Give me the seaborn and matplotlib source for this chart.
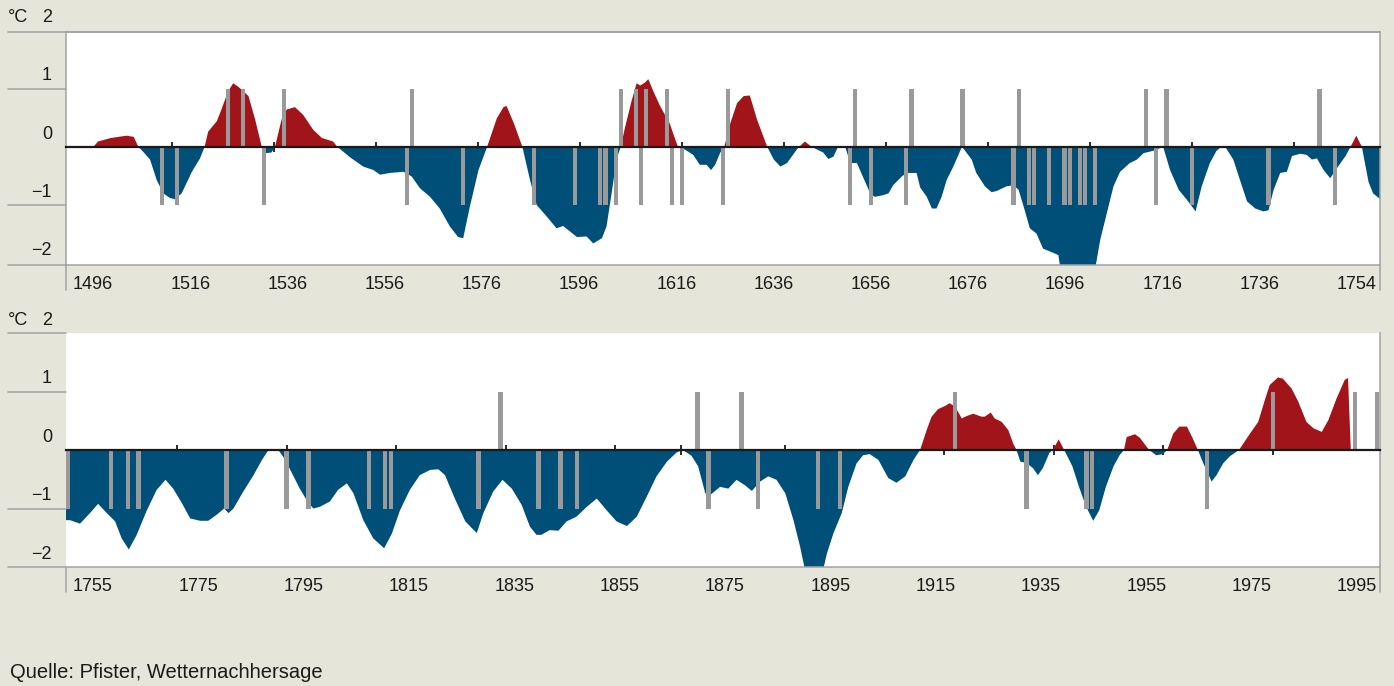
import numpy as np
import pandas as pd
import matplotlib.pyplot as plt
import seaborn as sns

# -------------------------------
# Data (°C anomaly, smoothed)
# -------------------------------
years_1 = [1495.2, 1500.6, 1501.5, 1504, 1507.1, 1508.5, 1509.4, 1510.5, 1511.7, 1513, 1514.3,
           1515.6, 1516.6, 1517.9, 1519.9, 1521.5, 1522.4, 1523.1, 1524.8, 1525.7, 1527, 1528,
           1529, 1531, 1532.3, 1533.6, 1534.2, 1535.5, 1536.2, 1537.5, 1538.5, 1540.1, 1541.7,
           1543.7, 1545.4, 1547.6, 1548.4, 1550.9, 1553.5, 1555.5, 1556.8, 1558.7, 1561.4, 1563,
           1564.6, 1566.6, 1568.5, 1570.5, 1572.1, 1573.1, 1574.4, 1576.1, 1577.8, 1579.7, 1581,
           1581.6, 1583, 1584.7, 1586.2, 1587.5, 1589.5, 1591.4, 1592.7, 1595.4, 1597.3, 1598.6,
           1600.3, 1601.2, 1602.2, 1603.2, 1604, 1604.8, 1606.1, 1607.1, 1607.8, 1608.7, 1609.4,
           1610.4, 1611.7, 1613.6, 1614.3, 1615.2, 1616.6, 1618.2, 1619.5, 1620.8, 1621.7, 1622.5,
           1623.5, 1624.3, 1625.5, 1626.8, 1628.1, 1629.3, 1630.7, 1632.7, 1634, 1635.3, 1636.6,
           1638.5, 1639, 1640.1, 1641.4, 1642.3, 1643.7, 1644.7, 1645.7, 1646.6, 1648, 1649,
           1650.3, 1651.6, 1652.9, 1653.8, 1655.5, 1656.5, 1657.4, 1659.1, 1660, 1662, 1662.7,
           1664, 1665, 1665.9, 1666.9, 1667.9, 1669.2, 1670.9, 1672.8, 1673.7, 1675.4, 1676.7,
           1677.7, 1679.6, 1681, 1682, 1683, 1684.2, 1685.5, 1686.8, 1688.2, 1689.8, 1690.2,
           1697, 1698, 1699.3, 1700.6, 1701.9, 1703.8, 1705.2, 1706.5, 1708.4, 1709.1, 1710.1,
           1710.4, 1711.7, 1713.4, 1715, 1716.7, 1717.9, 1719.5, 1720.8, 1721.8, 1722.5, 1724.1,
           1725.4, 1726.8, 1728.4, 1730, 1731, 1732, 1733.3, 1734.6, 1735.6, 1737.2, 1738.5,
           1739.5, 1740.5, 1741.8, 1743.1, 1744.4, 1746.1, 1747.1, 1748.2, 1749.3, 1750.6,
           1751.5, 1752.9]
temp_1 = [0, 0, 0.09, 0.15, 0.19, 0.17, 0, -0.1, -0.22, -0.57, -0.8,
          -0.88, -0.9, -0.8, -0.43, -0.2, 0, 0.26, 0.44, 0.64, 0.95, 1.09,
          1.03, 0.87, 0.47, 0, -0.11, -0.1, 0, 0.47, 0.64, 0.68, 0.55,
          0.29, 0.15, 0.09, 0, -0.18, -0.34, -0.4, -0.48, -0.45, -0.43, -0.51,
          -0.71, -0.86, -1.06, -1.37, -1.55, -1.57, -1.03, -0.4, 0, 0.49, 0.68,
          0.7, 0.41, 0, -0.57, -1.0, -1.2, -1.4, -1.36, -1.55, -1.54, -1.66,
          -1.57, -1.37, -0.8, -0.2, 0, 0.32, 0.78, 1.09, 1.05, 1.1, 1.16,
          0.95, 0.7, 0.4, 0.22, 0, -0.05, -0.14, -0.31, -0.31, -0.4, -0.31,
          -0.1, 0, 0.41, 0.75, 0.87, 0.88, 0.47, 0, -0.22, -0.34, -0.28,
          -0.05, 0, 0.09, 0, -0.04, -0.1, -0.21, -0.17, 0, 0, -0.28,
          -0.28, -0.54, -0.8, -0.86, -0.83, -0.8, -0.66, -0.51, -0.45, -0.45, -0.7,
          -0.86, -1.06, -1.06, -0.86, -0.57, -0.34, 0, -0.22, -0.45, -0.68, -0.78,
          -0.76, -0.68, -0.66, -0.74, -1.03, -1.4, -1.49, -1.75, -1.8, -1.86, -2.1,
          -2.1, -1.6, -1.14, -0.68, -0.43, -0.28, -0.22, -0.11, -0.07, -0.05, 0,
          -0.02, -0.4, -0.74, -0.91, -1.11, -0.68, -0.28, -0.07, 0, 0, -0.22,
          -0.57, -0.94, -1.06, -1.11, -1.09, -0.74, -0.45, -0.43, -0.16, -0.12, -0.14,
          -0.22, -0.2, -0.4, -0.54, -0.37, -0.16, 0, 0.19, 0, -0.6,
          -0.8, -0.9]
warm_years_1 = [1527, 1530, 1538, 1563, 1604, 1607, 1609, 1613, 1625, 1650, 1661, 1671,
                1682, 1707, 1711, 1741]
cold_years_1 = [1514, 1517, 1534, 1562, 1573, 1587, 1595, 1600, 1601, 1603, 1608, 1614,
                1616, 1624, 1649, 1653, 1660, 1681, 1684, 1685, 1688, 1691, 1692, 1694,
                1695, 1697, 1709, 1716, 1731, 1744]
ticks_1 = [1516, 1536, 1556, 1576, 1596, 1616, 1636, 1656, 1676, 1696, 1716, 1736]
labels_1 = ["1496", "1516", "1536", "1556", "1576", "1596", "1616", "1636", "1656",
            "1676", "1696", "1716", "1736", "1754"]

years_2 = [1754.7, 1755.5, 1757.3, 1759.1, 1760.6, 1762.2, 1763.7, 1764.9, 1766.2, 1767.6,
           1769.5, 1771.3, 1772.9, 1774.3, 1775.9, 1777.4, 1779.2, 1780.7, 1782.2, 1783.6,
           1784.4, 1785.3, 1787.1, 1788.9, 1790.5, 1791.7, 1793.5, 1794.7, 1796, 1797.4, 1799,
           1799.9, 1801.1, 1802.9, 1804.4, 1806, 1807.2, 1809, 1810.8, 1812.8, 1814.2, 1815.7,
           1817.5, 1819.3, 1821.2, 1822.7, 1823.9, 1825.7, 1827.6, 1829.7, 1830.9, 1832.7,
           1834.4, 1836.1, 1837.9, 1839.4, 1840.6, 1841.5, 1843, 1844.6, 1846.1, 1847.9, 1849.8,
           1851.6, 1853.4, 1855.2, 1857.1, 1858.9, 1860.7, 1862.5, 1864.4, 1866.2, 1867.3,
           1868.9, 1870.1, 1871.4, 1872.3, 1874.1, 1875.6, 1877.1, 1878.6, 1879.9, 1881.4,
           1882.9, 1884.4, 1886, 1887.5, 1888.7, 1889.6, 1892.9, 1893.6, 1894.8, 1896.3, 1897.5,
           1899, 1900.2, 1901.4, 1903, 1904.8, 1906.3, 1907.9, 1909.4, 1910.6, 1911.8, 1912.7,
           1913.9, 1915.1, 1916, 1917, 1918.2, 1919.1, 1920.3, 1921.8, 1922.4, 1923.5, 1924.2,
           1925.5, 1926.7, 1927.6, 1928.2, 1928.9, 1930, 1931.2, 1932.1, 1933, 1934.2, 1934.8,
           1935.9, 1936.9, 1938.4, 1939.6, 1940.9, 1942.2, 1943.3, 1944.5, 1945.9, 1947, 1947.8,
           1948.3, 1949.8, 1950.7, 1952.4, 1953.7, 1954.9, 1955.7, 1956.8, 1957.9, 1959.3,
           1960.2, 1961.3, 1962.3, 1963.8, 1964.7, 1965.9, 1967.1, 1968.8, 1970.8, 1972.3,
           1973.5, 1974.4, 1975.9, 1976.8, 1978.4, 1979.6, 1981.1, 1982.4, 1983.9, 1985.1,
           1986.6, 1988.1, 1988.7, 1989.2]
temp_2 = [-1.2, -1.2, -1.26, -1.08, -0.92, -1.08, -1.22, -1.51, -1.7, -1.46,
          -1.03, -0.68, -0.51, -0.66, -0.91, -1.17, -1.21, -1.21, -1.11, -1.0,
          -1.08, -1.0, -0.71, -0.44, -0.17, 0, 0, -0.16, -0.4, -0.66, -0.91,
          -1.0, -0.97, -0.88, -0.68, -0.57, -0.74, -1.2, -1.51, -1.68, -1.43, -1.03,
          -0.68, -0.43, -0.34, -0.33, -0.43, -0.83, -1.22, -1.42, -1.08, -0.71,
          -0.51, -0.66, -0.94, -1.31, -1.45, -1.45, -1.37, -1.38, -1.22, -1.14, -0.97,
          -0.83, -1.03, -1.22, -1.3, -1.14, -0.8, -0.45, -0.2, -0.04, 0,
          -0.1, -0.28, -0.74, -0.77, -0.63, -0.66, -0.51, -0.6, -0.7, -0.54,
          -0.45, -0.51, -0.74, -1.2, -1.65, -2.05, -2.05, -1.77, -1.42, -1.08, -0.63,
          -0.23, -0.09, -0.07, -0.17, -0.48, -0.56, -0.45, -0.17, 0, 0.34, 0.57,
          0.7, 0.75, 0.8, 0.74, 0.54, 0.58, 0.62, 0.57, 0.57, 0.64, 0.54,
          0.48, 0.34, 0.11, 0, -0.2, -0.22, -0.31, -0.43, -0.31, -0.05, 0,
          0.18, 0, -0.28, -0.63, -0.97, -1.21, -1.03, -0.63, -0.28, -0.09, 0,
          0.22, 0.27, 0.21, 0, -0.09, -0.07, 0, 0.28, 0.4, 0.4,
          0.23, 0, -0.23, -0.54, -0.43, -0.23, -0.11, 0, 0.28, 0.48,
          0.85, 1.11, 1.24, 1.22, 1.05, 0.83, 0.48, 0.37, 0.31, 0.51,
          0.88, 1.2, 1.23, 0]
warm_years_2 = [1834, 1870, 1878, 1917, 1975, 1990, 1994]
cold_years_2 = [1755, 1763, 1766, 1768, 1784, 1795, 1799, 1810, 1813, 1814, 1830, 1841,
                1845, 1848, 1872, 1881, 1892, 1896, 1930, 1941, 1942, 1963]
ticks_2 = [1775, 1795, 1815, 1835, 1855, 1867, 1886, 1915, 1935, 1955, 1975]
labels_2 = ["1755", "1775", "1795", "1815", "1835", "1855", "1875", "1895", "1915",
            "1935", "1955", "1975", "1995"]

RED = "#a11419"
BLUE = "#004f79"
BAR = "#9a9a9a"
BG = "#e6e5da"
FRAME = "#a2a2a2"

sns.set_theme(style="white")
plt.rcParams['font.family'] = ['Liberation Sans', 'DejaVu Sans']
plt.rcParams['text.color'] = '#1a1a1a'

fig = plt.figure(figsize=(13.94, 6.86), dpi=100, facecolor=BG)
W, H = 1394, 686
ax1 = fig.add_axes([66 / W, 1 - 265 / H, 1314 / W, 233 / H])
ax2 = fig.add_axes([66 / W, 1 - 567 / H, 1314 / W, 234 / H])

LEFT = -58 / 1314  # grey label lines start at x=8 px


def draw_panel(ax, years, temp, warm, cold, ticks, labels, xlim, ylim, top_frame):
    df = pd.DataFrame({'year': years, 'temp': temp})
    t = df['temp'].to_numpy()
    ax.fill_between(df['year'], t, 0, where=t >= 0, interpolate=True, color=RED, lw=0)
    ax.fill_between(df['year'], t, 0, where=t <= 0, interpolate=True, color=BLUE, lw=0)
    ax.bar(warm, np.ones(len(warm)), width=0.8, color=BAR, lw=0)
    ax.bar(cold, -np.ones(len(cold)), width=0.8, color=BAR, lw=0)

    ax.set_xlim(xlim)
    ax.set_ylim(ylim)
    ax.set_facecolor('white')

    # zero line with the year ticks
    ax.spines['bottom'].set_position(('data', 0))
    ax.spines['bottom'].set_color('#1a1a1a')
    ax.spines['bottom'].set_linewidth(1.6)
    ax.set_xticks(ticks)
    ax.tick_params(axis='x', direction='inout', length=7, width=1.3, color='#1a1a1a',
                   bottom=True, labelbottom=False)
    ax.set_yticks([])

    for side in ['top', 'left', 'right']:
        ax.spines[side].set_color(FRAME)
        ax.spines[side].set_linewidth(1.1)
    ax.spines['top'].set_visible(top_frame)
    ax.spines['left'].set_visible(top_frame)

    # frame lines and label lines
    ax.axhline(ylim[0], xmin=LEFT, xmax=1, color=FRAME, lw=1.1, clip_on=False)
    ax.axhline(ylim[1], xmin=LEFT, xmax=1 if top_frame else 0, color=FRAME, lw=1.1, clip_on=False)
    for v in [1, -1]:
        ax.axhline(v, xmin=LEFT, xmax=0, color=FRAME, lw=1.1, clip_on=False)
    for xa in [0, 1]:
        ax.plot([xa, xa], [0, -0.107], transform=ax.transAxes, color=FRAME, lw=1.1,
                clip_on=False)

    # y labels
    ytr = ax.get_yaxis_transform()
    for v, s in zip([2, 1, 0, -1, -2], ["2", "1", "0", "\u22121", "\u22122"]):
        ax.text(-0.0107, v + 0.07, s, transform=ytr, ha='right', va='bottom', fontsize=13)
    ax.text(LEFT, 2.07, "°C", transform=ytr, ha='left', va='bottom', fontsize=13)

    # year labels, evenly spread under the panel
    pos = (np.linspace(93, 1357, len(labels)) - 66) / 1314
    for p, s in zip(pos, labels):
        ax.text(p, -0.083, s, transform=ax.transAxes, ha='center', va='center', fontsize=13)


draw_panel(ax1, years_1, temp_1, warm_years_1, cold_years_1, ticks_1, labels_1,
           (1495.22, 1752.86), (-2.03, 1.97), True)
draw_panel(ax2, years_2, temp_2, warm_years_2, cold_years_2, ticks_2, labels_2,
           (1754.74, 1994.53), (-2.0, 2.0), False)

fig.text(10 / W, 1 - 672.5 / H, "Quelle: Pfister, Wetternachhersage", ha='left', va='center',
         fontsize=14.5)

fig.savefig("out.png", dpi=100, facecolor=BG)
